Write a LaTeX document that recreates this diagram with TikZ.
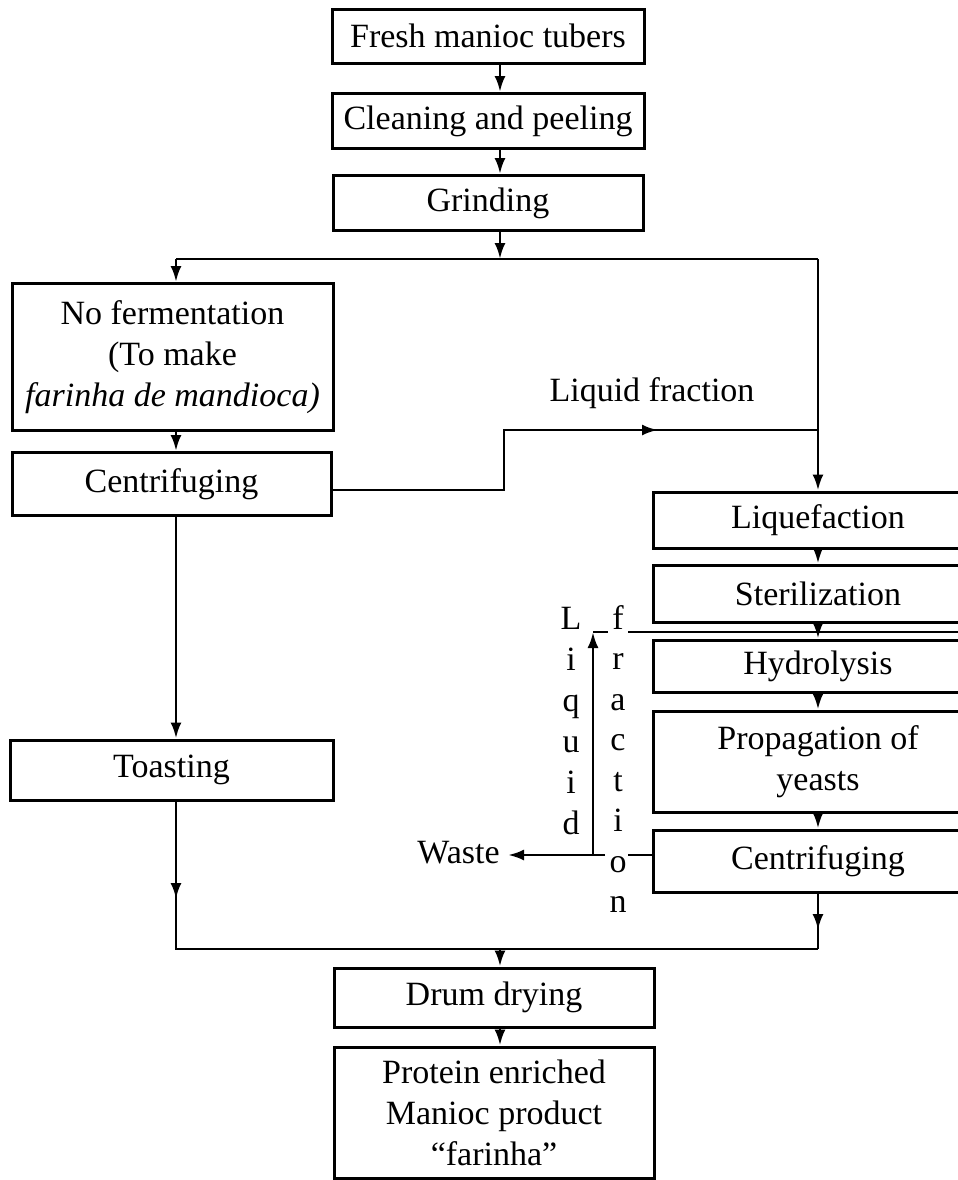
\documentclass[tikz,border=0pt]{standalone}
\usepackage{fontspec}
\setmainfont{Liberation Serif}
\usetikzlibrary{arrows.meta,positioning}

\begin{document}
\begin{tikzpicture}[x=0.5pt, y=-0.5pt,
            stage/.style={rectangle, draw=black, line width=1.5pt, inner sep=0pt,
            align=center, font=\fontsize{17}{20.5}\selectfont},
            flow/.style={line width=1.4pt, -{Latex[length=8pt,width=5.5pt]}},
            pipe/.style={line width=1.4pt},
            label/.style={inner sep=0pt, font=\fontsize{17}{20.5}\selectfont},
            letter/.style={label, anchor=base}]
            \useasboundingbox (0,0) rectangle (958,1180);
            \clip (0,0) rectangle (958,1180);

            % main line
            \node (fresh) [stage, minimum width=156pt, minimum height=27pt] at (488,36) {Fresh manioc tubers};
            \node (clean) [stage, minimum width=156pt, minimum height=27.5pt] at (488,121) {Cleaning and peeling};
            \node (grind) [stage, minimum width=155pt, minimum height=27.5pt] at (488,203) {Grinding};

            % left branch
            \node (noferm) [stage, minimum width=160.5pt, minimum height=73.5pt] at (172.5,357)
            {No fermentation\\(To make\\\textit{farinha de mandioca)}};
            \node (centl) [stage, minimum width=159.5pt, minimum height=31.5pt] at (171.5,484) {Centrifuging};
            \node (toast) [stage, minimum width=161.5pt, minimum height=30pt] at (171.5,770) {Toasting};

            % right branch
            \node (liq) [stage, minimum width=165pt, minimum height=28pt] at (818,520) {Liquefaction};
            \node (steril) [stage, minimum width=165pt, minimum height=28.5pt] at (818,593.5) {Sterilization};
            \node (hydro) [stage, minimum width=165pt, minimum height=26pt] at (818,666) {Hydrolysis};
            \node (prop) [stage, minimum width=165pt, minimum height=50.5pt] at (818,761.5) {Propagation of\\yeasts};
            \node (centr) [stage, minimum width=165pt, minimum height=31pt] at (818,861) {Centrifuging};

            % end
            \node (drum) [stage, minimum width=160pt, minimum height=29.5pt] at (494,997.5) {Drum drying};
            \node (prot) [stage, minimum width=160pt, minimum height=65.5pt] at (494,1112.5)
            {Protein enriched\\Manioc product\\``farinha''};

            \coordinate (ax) at (500,0);
            \coordinate (lx) at (176,0);
            \coordinate (splitL) at (176,259);
            \coordinate (splitR) at (818,259);
            \coordinate (joinL) at (176,949);
            \coordinate (joinR) at (818,949);
            \coordinate (toastarr) at (176,899);
            \coordinate (centrarr) at (818,930);
            \coordinate (stepA) at (504,490);
            \coordinate (stepB) at (504,430);
            \coordinate (lfmid) at (658,430);
            \coordinate (lfend) at (818,430);

            \draw[flow] (fresh.south -| ax) -- (clean.north -| ax);
            \draw[flow] (clean.south -| ax) -- (grind.north -| ax);
            \draw[flow] (grind.south -| ax) -- (ax |- splitL);
            \draw[pipe] (splitL) -- (splitR);
            \draw[flow] (splitL) -- (noferm.north -| splitL);
            \draw[flow] (noferm.south -| lx) -- (centl.north -| lx);
            \draw[flow] (centl.south -| lx) -- (toast.north -| lx);
            \draw[pipe] (toast.south -| lx) -- (joinL) -- (joinR);
            \draw[flow] (toast.south -| lx) -- (toastarr);

            \draw[flow] (splitR) -- (liq.north);
            \draw[pipe] (centl.east |- stepA) -- (stepA) -- (stepB) -- (lfend);
            \draw[flow] (stepB) -- (lfmid);
            \node (lftext) [label] at (652,393) {Liquid fraction};

            \draw[flow] (liq.south) -- (steril.north);
            \draw[flow] (steril.south) -- (hydro.north);
            \draw[flow] (hydro.south) -- (prop.north);
            \draw[flow] (prop.south) -- (centr.north);
            \draw[pipe] (centr.south) -- (joinR);
            \draw[flow] (centr.south) -- (centrarr);

            \draw[flow] (ax |- joinL) -- (drum.north -| ax);
            \draw[flow] (drum.south -| ax) -- (prot.north -| ax);

            % waste and recycled liquid
            \node (waste) [label, anchor=east] at (500,853) {Waste};
            \coordinate (wasteR) at (628,855);
            \coordinate (wasteL) at (605,855);
            \coordinate (wasteTip) at (508,855);
            \coordinate (riseB) at (593,855);
            \coordinate (riseT) at (593,632);
            \coordinate (backL) at (608,632);
            \coordinate (backR) at (628,632);
            \coordinate (backEnd) at (990,632);
            \draw[pipe] (centr.west |- wasteR) -- (wasteR);
            \draw[flow] (wasteL) -- (wasteTip);
            \draw[flow] (riseB) -- (riseT);
            \draw[pipe] (riseT) -- (backL);
            \draw[pipe] (backR) -- (backEnd);

            \foreach \ch [count=\k from 0] in {L,i,q,u,i,d}
                \node (liqv\k) [letter] at (571,629+41*\k) {\ch};
            \foreach \ch [count=\k from 0] in {f,r,a,c,t,i,o,n}
                \node (fracv\k) [letter] at (618,629+40.5*\k) {\ch};
        \end{tikzpicture}
\end{document}
